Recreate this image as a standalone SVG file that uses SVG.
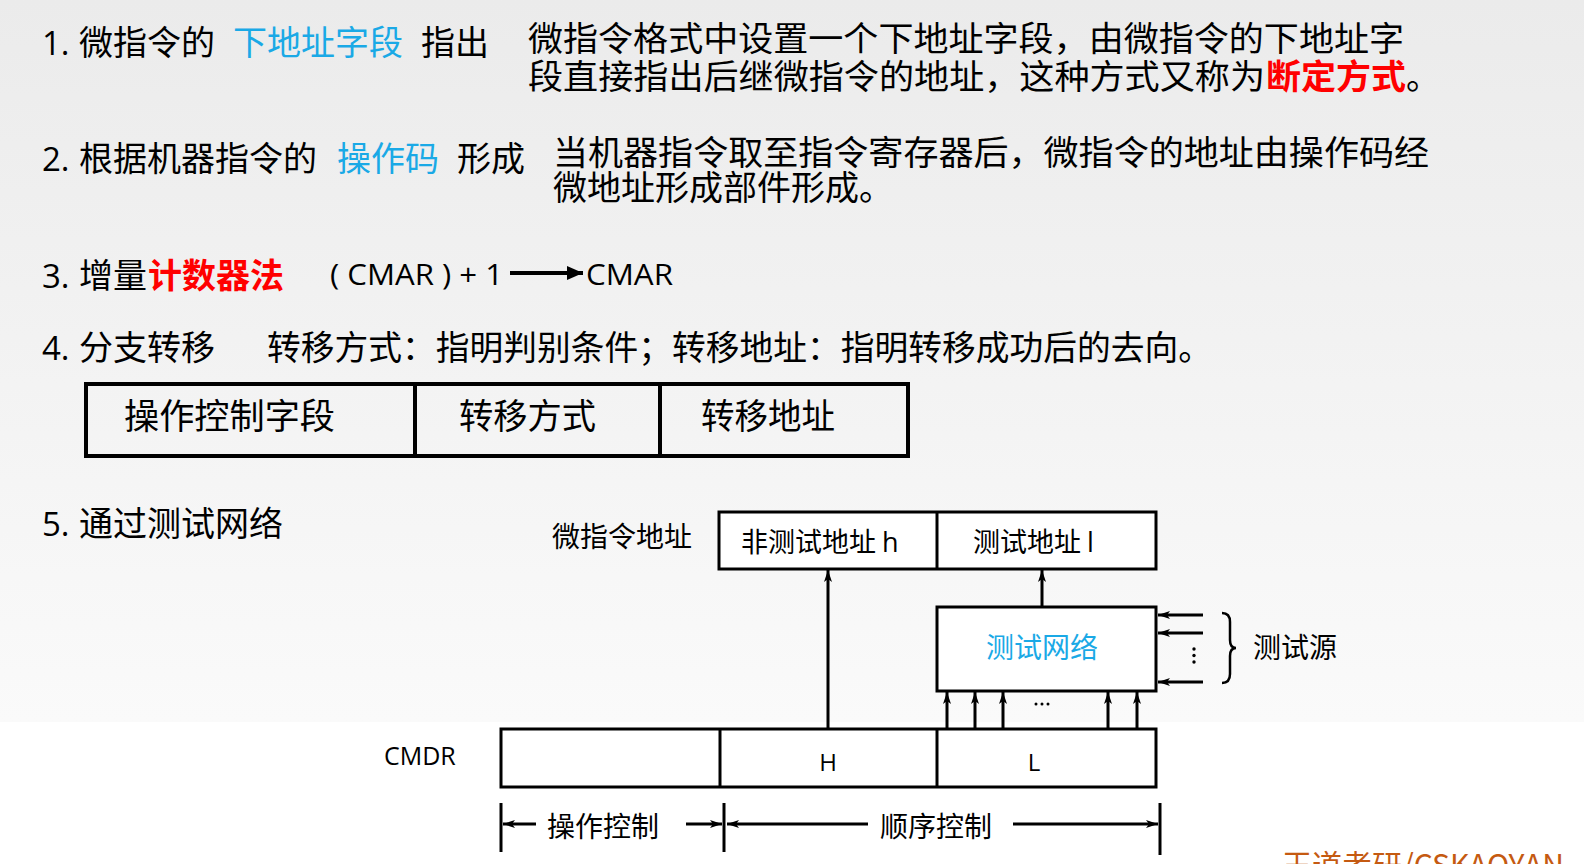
<svg xmlns="http://www.w3.org/2000/svg" width="1584" height="864" viewBox="0 0 1584 864">
<defs>
<linearGradient id="bg" x1="0" y1="0" x2="0" y2="1">
<stop offset="0" stop-color="#ebebeb"/>
<stop offset="1" stop-color="#fafafa"/>
</linearGradient>
<marker id="ah" viewBox="0 0 12 10" refX="12" refY="5" markerWidth="12" markerHeight="10" markerUnits="userSpaceOnUse" orient="auto">
<path d="M0,1 L12,5 L0,9 L3,5 z" fill="#000"/>
</marker>
<marker id="ahBig" viewBox="0 0 16 14" refX="16" refY="7" markerWidth="16" markerHeight="14" markerUnits="userSpaceOnUse" orient="auto">
<path d="M0,0 L16,7 L0,14 z" fill="#000"/>
</marker>
<style>
.cj{font-family:"Noto Sans CJK SC","Noto Sans",sans-serif;font-size:34px;fill:#000}
.lat{font-family:"Open Sans","Liberation Sans",sans-serif;fill:#000}
.num{font-family:"Open Sans","Liberation Sans",sans-serif;font-size:33px;fill:#000}
.cyan{fill:#1aa9e6}
.red{fill:#ff0000;font-weight:bold}
.sm{font-size:28px}
.tb{font-size:35px}
.fld{font-size:27px}
.box{fill:#fff;stroke:#000;stroke-width:3}
.tbl{fill:none;stroke:#000;stroke-width:4}
.ln{stroke:#000;stroke-width:3;fill:none}
</style>
</defs>

<rect x="0" y="0" width="1584" height="722" fill="url(#bg)"/>
<rect x="0" y="722" width="1584" height="142" fill="#ffffff"/>

<g id="item1">
<text class="num" x="42" y="55">1.</text>
<text class="cj" x="79" y="55">微指令的</text>
<text class="cj cyan" x="233" y="55">下地址字段</text>
<text class="cj" x="421" y="55">指出</text>
<text class="cj" x="528" y="51" textLength="876" lengthAdjust="spacingAndGlyphs">微指令格式中设置一个下地址字段，由微指令的下地址字</text>
<text class="cj" x="528" y="89" textLength="737" lengthAdjust="spacingAndGlyphs">段直接指出后继微指令的地址，这种方式又称为</text>
<text class="cj red" x="1266" y="89" textLength="140" lengthAdjust="spacingAndGlyphs">断定方式</text>
<text class="cj" x="1406" y="89">。</text>
</g>

<g id="item2">
<text class="num" x="42" y="171">2.</text>
<text class="cj" x="79" y="171">根据机器指令的</text>
<text class="cj cyan" x="337" y="171">操作码</text>
<text class="cj" x="457" y="171">形成</text>
<text class="cj" x="553" y="165" textLength="876" lengthAdjust="spacingAndGlyphs">当机器指令取至指令寄存器后，微指令的地址由操作码经</text>
<text class="cj" x="553" y="200">微地址形成部件形成。</text>
</g>

<g id="item3">
<text class="num" x="42" y="288">3.</text>
<text class="cj" x="79" y="288">增量</text>
<text class="cj red" x="148" y="288">计数器法</text>
<text class="lat" x="330" y="285" font-size="30" textLength="173" lengthAdjust="spacingAndGlyphs">( CMAR ) + 1</text>
<line x1="510" y1="273" x2="583" y2="273" stroke="#000" stroke-width="4" marker-end="url(#ahBig)"/>
<text class="lat" x="586" y="285" font-size="30" textLength="87" lengthAdjust="spacingAndGlyphs">CMAR</text>
</g>

<g id="item4">
<text class="num" x="42" y="360">4.</text>
<text class="cj" x="79" y="360">分支转移</text>
<text class="cj" x="267" y="360" textLength="945" lengthAdjust="spacingAndGlyphs">转移方式：指明判别条件；转移地址：指明转移成功后的去向。</text>
</g>

<g id="branch-format">
<rect class="tbl" x="86" y="384" width="822" height="72"/>
<line class="tbl" x1="415" y1="384" x2="415" y2="456"/>
<line class="tbl" x1="660" y1="384" x2="660" y2="456"/>
<text class="cj tb" x="124" y="429" textLength="211" lengthAdjust="spacingAndGlyphs">操作控制字段</text>
<text class="cj tb" x="459" y="429" textLength="137" lengthAdjust="spacingAndGlyphs">转移方式</text>
<text class="cj tb" x="701" y="429" textLength="134" lengthAdjust="spacingAndGlyphs">转移地址</text>
</g>

<g id="item5">
<text class="num" x="42" y="536">5.</text>
<text class="cj" x="79" y="536">通过测试网络</text>
</g>

<g id="uaddr-label">
<text class="cj sm" x="552" y="547" textLength="140" lengthAdjust="spacingAndGlyphs">微指令地址</text>
</g>

<g id="uaddr">
<rect class="box" x="719" y="512" width="437" height="57"/>
<line class="ln" x1="937" y1="512" x2="937" y2="569"/>
<text class="cj fld" x="741" y="552">非测试地址 <tspan class="lat">h</tspan></text>
<text class="cj fld" x="973" y="552">测试地址 <tspan class="lat">l</tspan></text>
</g>

<g id="test-network">
<rect class="box" x="937" y="607" width="219" height="84"/>
<text class="cj sm cyan" x="1042" y="658" text-anchor="middle">测试网络</text>
</g>

<g id="test-source">
<circle cx="1194" cy="649" r="1.7" fill="#000"/>
<circle cx="1194" cy="655.5" r="1.7" fill="#000"/>
<circle cx="1194" cy="662" r="1.7" fill="#000"/>
<path d="M1222,613 Q1230,613 1230,622 L1230,640 Q1230,648 1236,648 Q1230,648 1230,656 L1230,674 Q1230,683 1222,683" fill="none" stroke="#000" stroke-width="2.5"/>
<text class="cj sm" x="1253" y="658">测试源</text>
</g>

<g id="cmdr-label">
<text class="lat" x="384" y="765" font-size="25">CMDR</text>
</g>

<g id="cmdr">
<rect class="box" x="501" y="729" width="655" height="58"/>
<line class="ln" x1="720" y1="729" x2="720" y2="787"/>
<line class="ln" x1="937" y1="729" x2="937" y2="787"/>
<text class="lat" x="828" y="771" font-size="24" text-anchor="middle">H</text>
<text class="lat" x="1034" y="771" font-size="24" text-anchor="middle">L</text>
</g>

<g id="connectors">
<line class="ln" x1="828" y1="729" x2="828" y2="570" marker-end="url(#ah)"/>
<line class="ln" x1="1042" y1="607" x2="1042" y2="570" marker-end="url(#ah)"/>
<line class="ln" x1="947" y1="729" x2="947" y2="692" marker-end="url(#ah)"/>
<line class="ln" x1="975" y1="729" x2="975" y2="692" marker-end="url(#ah)"/>
<line class="ln" x1="1003" y1="729" x2="1003" y2="692" marker-end="url(#ah)"/>
<line class="ln" x1="1108" y1="729" x2="1108" y2="692" marker-end="url(#ah)"/>
<line class="ln" x1="1137" y1="729" x2="1137" y2="692" marker-end="url(#ah)"/>
<circle cx="1036" cy="704" r="1.5" fill="#000"/>
<circle cx="1042" cy="704" r="1.5" fill="#000"/>
<circle cx="1048" cy="704" r="1.5" fill="#000"/>
<line class="ln" x1="1203" y1="615" x2="1158" y2="615" marker-end="url(#ah)"/>
<line class="ln" x1="1203" y1="633" x2="1158" y2="633" marker-end="url(#ah)"/>
<line class="ln" x1="1203" y1="682" x2="1158" y2="682" marker-end="url(#ah)"/>
</g>

<g id="dimensions">
<line class="ln" x1="501" y1="803" x2="501" y2="852"/>
<line class="ln" x1="724" y1="803" x2="724" y2="852"/>
<line class="ln" x1="1160" y1="803" x2="1160" y2="855"/>
<line class="ln" x1="536" y1="824" x2="503" y2="824" marker-end="url(#ah)"/>
<line class="ln" x1="686" y1="824" x2="722" y2="824" marker-end="url(#ah)"/>
<line class="ln" x1="868" y1="824" x2="727" y2="824" marker-end="url(#ah)"/>
<line class="ln" x1="1013" y1="824" x2="1158" y2="824" marker-end="url(#ah)"/>
<text class="cj sm" x="547" y="837">操作控制</text>
<text class="cj sm" x="880" y="837">顺序控制</text>
</g>

<g id="footer">
<text x="1282" y="876" font-family="Noto Sans CJK SC, Noto Sans, sans-serif" font-size="30" fill="#c55a11">王道考研/CSKAOYAN</text>
</g>
</svg>
